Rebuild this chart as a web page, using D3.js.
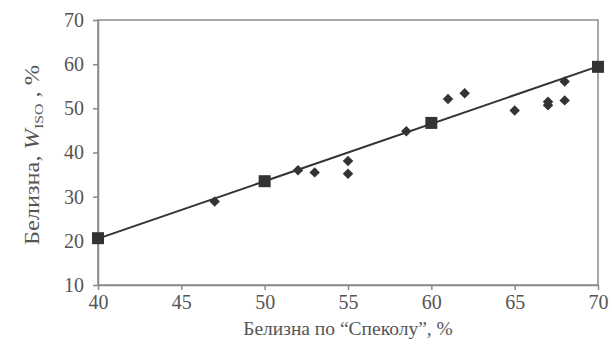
<!DOCTYPE html>
<html><head><meta charset="utf-8">
<script src="https://cdn.jsdelivr.net/npm/d3@7"></script>
<style>body{margin:0;background:#fff}svg{display:block}</style>
</head><body>
<script>
const xTicks = [40,45,50,55,60,65,70];
const yTicks = [10,20,30,40,50,60,70];
const diamondX = [47,52,53,55,55,58.5,61,62,65,67,67,68,68];
const diamondY = [28.9,36,35.5,38.1,35.2,44.8,52.1,53.4,49.5,51.5,50.7,51.8,56.1];
const squareX = [40,50,60,70];
const squareY = [20.6,33.5,46.7,59.4];
const lineX = [40,70];
const lineY = [20.5,59.5];

const W=612,H=364;
const m={l:98,r:14,t:20,b:79};
const svg=d3.select("body").append("svg").attr("width",W).attr("height",H);
const x=d3.scaleLinear().domain([40,70]).range([m.l,W-m.r]);
const y=d3.scaleLinear().domain([10,70]).range([H-m.b,m.t]);
const axCol="#8a8a8a", txtCol="#555", mk="#333";
const font="'Liberation Serif','Times New Roman',serif";

svg.append("rect").attr("x",x(40)).attr("y",y(70)).attr("width",x(70)-x(40)).attr("height",y(10)-y(70))
  .attr("fill","none").attr("stroke",axCol).attr("stroke-width",1.5);

const xa=svg.append("g").attr("transform",`translate(0,${y(10)})`)
  .call(d3.axisBottom(x).tickValues(xTicks).tickSize(5).tickSizeOuter(0).tickPadding(5));
const ya=svg.append("g").attr("transform",`translate(${x(40)},0)`)
  .call(d3.axisLeft(y).tickValues(yTicks).tickSize(5).tickSizeOuter(0).tickPadding(9));
[xa,ya].forEach(a=>{
  a.select(".domain").attr("stroke",axCol).attr("stroke-width",1.5);
  a.selectAll(".tick line").attr("stroke",axCol).attr("stroke-width",1.5);
  a.selectAll(".tick text").attr("fill",txtCol).style("font-family",font).style("font-size","20px");
});

svg.append("line").attr("x1",x(lineX[0])).attr("y1",y(lineY[0])).attr("x2",x(lineX[1])).attr("y2",y(lineY[1]))
  .attr("stroke",mk).attr("stroke-width",2);

svg.append("g").selectAll("path").data(diamondX.map((d,i)=>[d,diamondY[i]])).join("path")
  .attr("d",d3.symbol(d3.symbolDiamond2,70)())
  .attr("transform",d=>`translate(${x(d[0])},${y(d[1])})`).attr("fill",mk);
svg.append("g").selectAll("rect").data(squareX.map((d,i)=>[d,squareY[i]])).join("rect")
  .attr("x",d=>x(d[0])-6).attr("y",d=>y(d[1])-6).attr("width",12).attr("height",12).attr("fill",mk);

svg.append("text").attr("x",(x(40)+x(70))/2).attr("y",335).attr("text-anchor","middle")
  .attr("fill",txtCol).style("font-family",font).style("font-size","19.5px")
  .text("Белизна по “Спеколу”, %");
const yl=svg.append("text").attr("transform",`translate(39,155) rotate(-90) scale(1.22,1)`)
  .attr("text-anchor","middle").attr("fill",txtCol).style("font-family",font).style("font-size","20px");
yl.append("tspan").text("Белизна, ");
yl.append("tspan").style("font-style","italic").text("W");
yl.append("tspan").attr("dy",4).style("font-size","13px").text("ISO");
yl.append("tspan").attr("dy",-4).text(" , %");
</script>
</body></html>
